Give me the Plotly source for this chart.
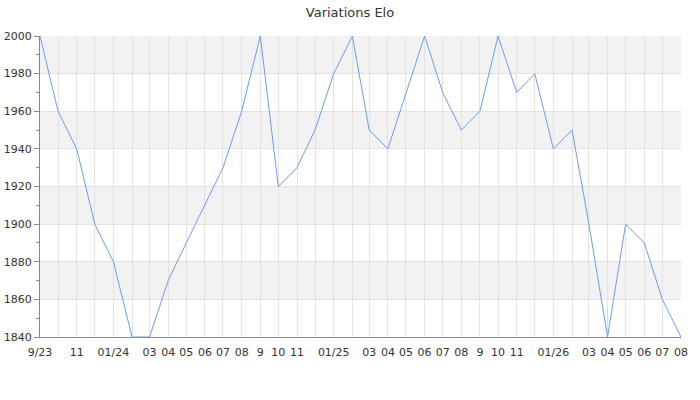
import plotly.graph_objects as go

months = ["2023-09", "2023-10", "2023-11", "2023-12", "2024-01", "2024-02", "2024-03", "2024-04",
          "2024-05", "2024-06", "2024-07", "2024-08", "2024-09", "2024-10", "2024-11", "2024-12",
          "2025-01", "2025-02", "2025-03", "2025-04", "2025-05", "2025-06", "2025-07", "2025-08",
          "2025-09", "2025-10", "2025-11", "2025-12", "2026-01", "2026-02", "2026-03", "2026-04",
          "2026-05", "2026-06", "2026-07", "2026-08"]
elo = [2000, 1960, 1940, 1900, 1880, 1840, 1840, 1870,
       1890, 1910, 1930, 1960, 2000, 1920, 1930, 1950,
       1980, 2000, 1950, 1940, 1970, 2000, 1970, 1950,
       1960, 2000, 1970, 1980, 1940, 1950, 1900, 1840,
       1900, 1890, 1860, 1840]
tick_labels = ["9/23", "", "11", "", "01/24", "", "03", "04",
               "05", "06", "07", "08", "9", "10", "11", "",
               "01/25", "", "03", "04", "05", "06", "07", "08",
               "9", "10", "11", "", "01/26", "", "03", "04",
               "05", "06", "07", "08"]
y_ticks = [1840, 1860, 1880, 1900, 1920, 1940, 1960, 1980, 2000]

x = [m + "-01" for m in months]

fig = go.Figure()
fig.add_trace(go.Scatter(x=x, y=elo, mode="lines",
                         line=dict(color="#6c9cf0", width=1), hoverinfo="x+y"))

# alternating bands
shapes = []
for i in range(len(y_ticks) - 1):
    if i % 2 == 1:
        shapes.append(dict(type="rect", xref="paper", yref="y", x0=0, x1=1,
                           y0=y_ticks[i], y1=y_ticks[i + 1],
                           fillcolor="#f2f2f2", line=dict(width=0), layer="below"))

fig.update_layout(
    width=700, height=400,
    margin=dict(l=40, r=19, t=36, b=63, autoexpand=False),
    paper_bgcolor="white", plot_bgcolor="white",
    title=dict(text="Variations Elo", x=0.5, xanchor="center", y=0.97, yanchor="middle",
               automargin=False,
               font=dict(family="DejaVu Sans", size=13, color="#333333")),
    font=dict(family="DejaVu Sans", size=11, color="#333333"),
    showlegend=False,
    shapes=shapes,
    xaxis=dict(range=[x[0], x[-1]], tickvals=x, ticktext=tick_labels, tickangle=0,
               automargin=False,
               showgrid=True, gridcolor="#e2e2e2", gridwidth=1,
               showline=True, linecolor="#888888", linewidth=1,
               ticks="outside", ticklen=5, tickcolor="rgba(0,0,0,0)",
               zeroline=False, layer="above traces"),
    yaxis=dict(range=[1840, 2000], tickvals=y_ticks, automargin=False,
               showgrid=True, gridcolor="#e2e2e2", gridwidth=1,
               showline=True, linecolor="#888888", linewidth=1,
               ticks="outside", ticklen=5, tickcolor="#888888",
               minor=dict(dtick=10, ticks="outside", ticklen=3, tickcolor="#888888", showgrid=False),
               zeroline=False),
)

fig.write_html("out.html", config={"displayModeBar": False},
               post_script="document.body.style.margin='0';")
